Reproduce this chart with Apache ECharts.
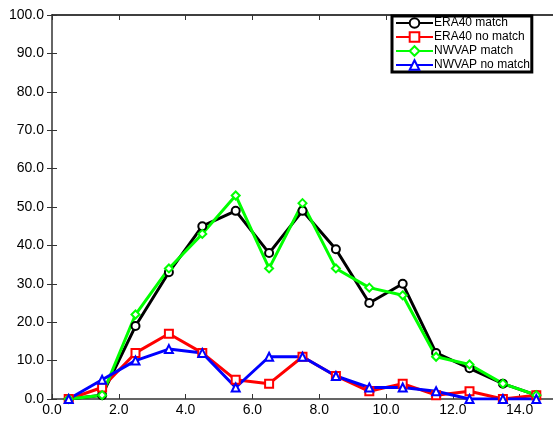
<!DOCTYPE html>
<html>
<head>
<meta charset="utf-8">
<script src="https://cdn.jsdelivr.net/npm/echarts@6/dist/echarts.min.js"></script>
<style>
html,body{margin:0;padding:0;background:#fff;}
#chart{width:553px;height:421px;}
</style>
</head>
<body>
<div id="chart"></div>
<script>
const xValues = [0.5, 1.5, 2.5, 3.5, 4.5, 5.5, 6.5, 7.5, 8.5, 9.5, 10.5, 11.5, 12.5, 13.5, 14.5];
const era40Match   = [0, 1, 19, 33, 45, 49, 38, 49, 39, 25, 30, 12, 8, 4, 1];
const era40NoMatch = [0, 3, 12, 17, 12, 5, 4, 11, 6, 2, 4, 1, 2, 0, 1];
const nwvapMatch   = [0, 1, 22, 34, 43, 53, 34, 51, 34, 29, 27, 11, 9, 4, 1];
const nwvapNoMatch = [0, 5, 10, 13, 12, 3, 11, 11, 6, 3, 3, 2, 0, 0, 0];
const seriesNames = ['ERA40 match', 'ERA40 no match', 'NWVAP match', 'NWVAP no match'];

const pairs = arr => xValues.map((x, i) => [x, arr[i]]);
const font = 'Liberation Sans, Helvetica, Arial, sans-serif';

function mk(name, data, color, symbol) {
  return {
    name: name,
    type: 'line',
    data: pairs(data),
    symbol: symbol,
    symbolSize: 8,
    showAllSymbol: true,
    lineStyle: {color: color, width: 3},
    itemStyle: {color: color, borderColor: color, borderWidth: 2.5},
    emphasis: {disabled: true},
    animation: false
  };
}

const chart = echarts.init(document.getElementById('chart'), null, {renderer: 'canvas'});
const fmt = v => v.toFixed(1);
chart.setOption({
  backgroundColor: '#fff',
  animation: false,
  grid: {left: 52, right: 0, top: 15, bottom: 22, containLabel: false},
  legend: {
    data: seriesNames,
    orient: 'vertical',
    left: 392,
    top: 16,
    width: 130,
    padding: [1, 2, 1, 3],
    itemGap: 2,
    itemWidth: 37,
    itemHeight: 12,
    borderColor: '#000',
    borderWidth: 3,
    backgroundColor: '#fff',
    textStyle: {fontFamily: font, fontSize: 12, color: '#000', padding: [0, 0, 0, -4]},
    selectedMode: false
  },
  xAxis: [{
    type: 'value', min: 0, max: 15, interval: 2, position: 'bottom',
    axisLine: {show: true, lineStyle: {color: '#333', width: 1.5}},
    axisTick: {show: true, inside: true, length: 5, lineStyle: {color: '#333'}},
    axisLabel: {formatter: fmt, fontFamily: font, fontSize: 14, color: '#000', margin: 4, showMaxLabel: false},
    splitLine: {show: false}
  }, {
    type: 'value', min: 0, max: 15, interval: 2, position: 'top',
    axisLine: {show: true, onZero: false, lineStyle: {color: '#000', width: 1.5}},
    axisTick: {show: true, inside: true, length: 5, lineStyle: {color: '#333'}},
    axisLabel: {show: false},
    splitLine: {show: false}
  }],
  yAxis: [{
    type: 'value', min: 0, max: 100, interval: 10, position: 'left',
    axisLine: {show: true, lineStyle: {color: '#333', width: 1.5}},
    axisTick: {show: true, inside: true, length: 5, lineStyle: {color: '#333'}},
    axisLabel: {formatter: fmt, fontFamily: font, fontSize: 14, color: '#000', margin: 8},
    splitLine: {show: false}
  }, {
    type: 'value', min: 0, max: 100, interval: 10, position: 'right',
    axisLine: {show: false},
    axisTick: {show: true, inside: true, length: 5, lineStyle: {color: '#333'}},
    axisLabel: {show: false},
    splitLine: {show: false}
  }],
  series: [
    mk(seriesNames[0], era40Match, '#000000', 'emptyCircle'),
    mk(seriesNames[1], era40NoMatch, '#ff0000', 'emptyRect'),
    mk(seriesNames[2], nwvapMatch, '#00ff00', 'emptyDiamond'),
    mk(seriesNames[3], nwvapNoMatch, '#0000ff', 'emptyTriangle')
  ]
});
</script>
</body>
</html>
